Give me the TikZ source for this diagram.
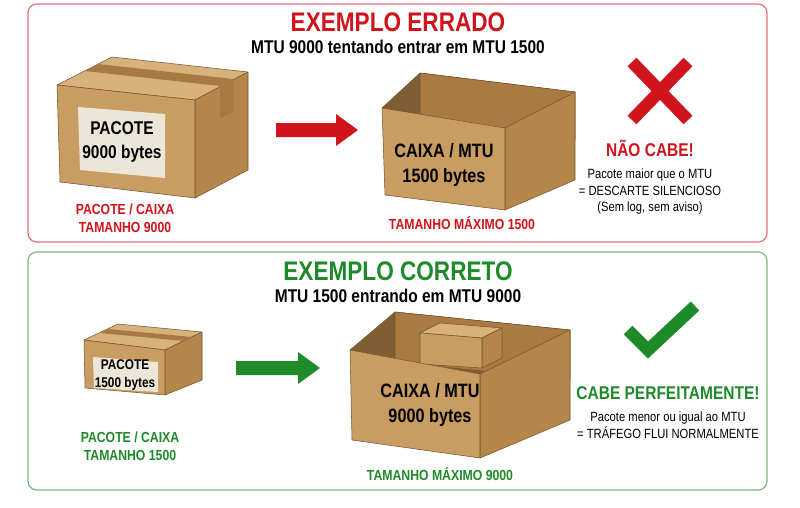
\documentclass[tikz,border=0pt]{standalone}
\usepackage{fontspec}
\setmainfont[FakeStretch=0.84]{Liberation Sans}
\usetikzlibrary{positioning}
\definecolor{errred}{HTML}{D0141B}
\definecolor{okgreen}{HTML}{1E8A2A}
\definecolor{cardfront}{HTML}{C99C62}
\definecolor{cardside}{HTML}{B58649}
\definecolor{cardtop}{HTML}{D8B27A}
\definecolor{cardin}{HTML}{A97A43}
\definecolor{tape}{HTML}{A77A44}
\definecolor{tag}{HTML}{ECE6D8}
\tikzset{
  panel/.style={draw=#1!60, line width=0.7pt, rounded corners=5pt, fill=white},
  title/.style={font=\bfseries\fontsize{15.3}{18}\selectfont, text=#1},
  subtitle/.style={font=\bfseries\fontsize{10.5}{12}\selectfont},
  caption/.style={font=\bfseries\fontsize{8.3}{10}\selectfont, text=#1, align=center},
  note/.style={font=\fontsize{7.6}{9.5}\selectfont, align=center},
  boxtext/.style={font=\bfseries\fontsize{#1}{1.25\dimexpr#1pt\relax}\selectfont, align=center},
  face/.style={fill=#1, draw=cardin!70!black, line width=0.3pt, line join=round}
}
% block arrow from (x,y) centre of tail, length in px
\newcommand{\blockarrow}[4]{%
  \fill[#1] (#2,#3-7) -- (#2+#4-22,#3-7) -- (#2+#4-22,#3-16) -- (#2+#4,#3)
    -- (#2+#4-22,#3+16) -- (#2+#4-22,#3+7) -- (#2,#3+7) -- cycle;}
\begin{document}
\begin{tikzpicture}[x=0.02cm, y=-0.02cm]
\useasboundingbox (0,0) rectangle (800,507);
% panels
\draw[panel=errred] (28,4) rectangle (767,242);
\draw[panel=okgreen] (28,252) rectangle (767,490);
\node (title1) [title=errred] at (398,22) {EXEMPLO ERRADO};
\node (sub1) [subtitle] at (398,47) {MTU 9000 tentando entrar em MTU 1500};
\node (title2) [title=okgreen] at (398,271) {EXEMPLO CORRETO};
\node (sub2) [subtitle] at (398,296) {MTU 1500 entrando em MTU 9000};

% closed box (wrong)
\fill[face=cardtop] (57,85) -- (112,57) -- (248,72) -- (195,100) -- cycle;
\fill[face=cardside] (195,100) -- (248,72) -- (248,170) -- (195,198) -- cycle;
\fill[face=cardfront] (57,85) -- (195,100) -- (195,198) -- (60,182) -- cycle;
\fill[tape] (85,71) -- (98,64) -- (233,79) -- (220,86) -- cycle;
\fill[tape] (220,86) -- (233,79) -- (233,112) -- (220,118) -- cycle;
\fill[tag] (78,107) -- (165,114) -- (165,178) -- (80,170) -- cycle;
\node (pkt1) [boxtext=10.5] at (122,142) {PACOTE\\9000 bytes};
\node (cap1) [caption=errred] at (125,218) {PACOTE / CAIXA\\TAMANHO 9000};

\blockarrow{errred}{276}{130}{82}

% open box (wrong)
\fill[face=cardside!70!black] (382,108) -- (420,73) -- (575,92) -- (505,128) -- cycle;
\fill[face=cardin] (420,73) -- (575,92) -- (575,140) -- (420,121) -- cycle;
\fill[face=cardside] (505,128) -- (575,92) -- (575,180) -- (505,210) -- cycle;
\fill[face=cardfront] (382,108) -- (505,128) -- (505,210) -- (385,195) -- cycle;
\node (mtu1) [boxtext=11] at (444,165) {CAIXA / MTU\\1500 bytes};
\node (cap2) [caption=errred] at (462,223) {TAMANHO MÁXIMO 1500};

% cross
\draw[errred, line width=7pt] (632,62) -- (688,120) (688,62) -- (632,120);
\node (nocabe) [font=\bfseries\fontsize{10.5}{12}\selectfont, text=errred] at (650,148) {NÃO CABE!};
\node (why1) [note, below=0pt of nocabe] {Pacote maior que o MTU\\= DESCARTE SILENCIOSO\\(Sem log, sem aviso)};

% small box (right)
\fill[face=cardtop] (84,340) -- (118,324) -- (202,332) -- (165,350) -- cycle;
\fill[face=cardside] (165,350) -- (202,332) -- (202,380) -- (165,395) -- cycle;
\fill[face=cardfront] (84,340) -- (165,350) -- (165,395) -- (85,388) -- cycle;
\fill[tape] (100,333) -- (108,329) -- (192,337) -- (184,341) -- cycle;
\fill[tag] (93,357) -- (158,362) -- (158,392) -- (94,388) -- cycle;
\node (pkt2) [boxtext=8] at (125,375) {PACOTE\\1500 bytes};
\node (cap3) [caption=okgreen] at (130,446) {PACOTE / CAIXA\\TAMANHO 1500};

\blockarrow{okgreen}{236}{368}{84}

% big open box (right)
\fill[face=cardside!70!black] (350,350) -- (395,312) -- (570,330) -- (480,374) -- cycle;
\fill[face=cardin] (395,312) -- (570,330) -- (570,380) -- (395,362) -- cycle;
\fill[face=cardtop] (420,333) -- (440,323) -- (502,328) -- (482,338) -- cycle;
\fill[face=cardside] (482,338) -- (502,328) -- (502,358) -- (482,368) -- cycle;
\fill[face=cardfront] (420,333) -- (482,338) -- (482,368) -- (420,364) -- cycle;
\fill[face=cardside] (480,374) -- (570,330) -- (570,420) -- (480,458) -- cycle;
\fill[face=cardfront] (350,350) -- (480,374) -- (480,458) -- (352,440) -- cycle;
\node (mtu2) [boxtext=11] at (430,405) {CAIXA / MTU\\9000 bytes};
\node (cap4) [caption=okgreen] at (440,474) {TAMANHO MÁXIMO 9000};

% check
\draw[okgreen, line width=7pt, line cap=butt] (628,330) -- (648,350) -- (695,306);
\node (cabe) [font=\bfseries\fontsize{10.5}{12}\selectfont, text=okgreen] at (668,393) {CABE PERFEITAMENTE!};
\node (why2) [note, below=0pt of cabe] {Pacote menor ou igual ao MTU\\= TRÁFEGO FLUI NORMALMENTE};
\end{tikzpicture}
\end{document}
